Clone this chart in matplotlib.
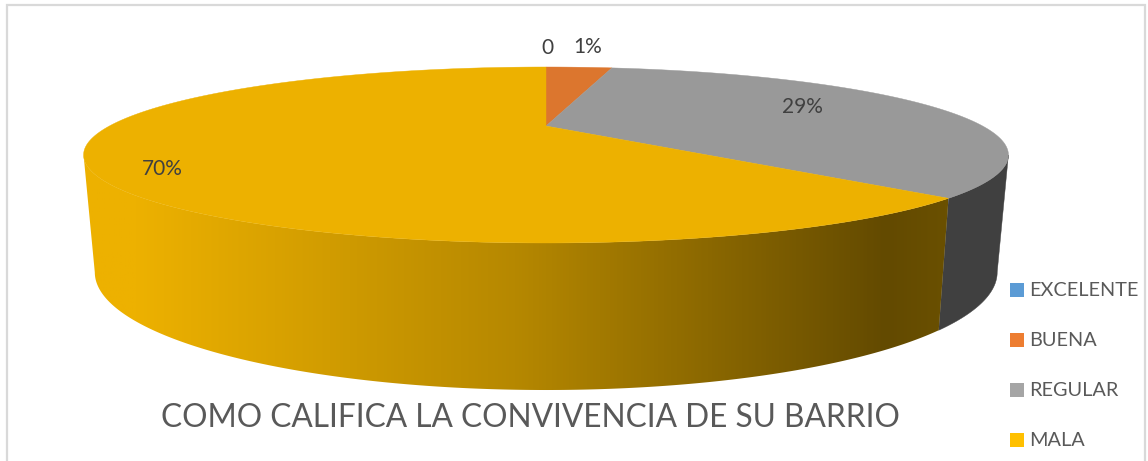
#!/usr/bin/env python

import numpy as np
import matplotlib
matplotlib.use('Agg')
import matplotlib.pyplot as plt
from matplotlib.colors import LinearSegmentedColormap
from matplotlib.patches import Polygon, Rectangle

plt.rcParams['font.family'] = ['Lato', 'DejaVu Sans']

categories = ['EXCELENTE', 'BUENA', 'REGULAR', 'MALA']
# drawn shares of the slices (labels do not follow them)
slice_shares = [0, 3.2, 34.3, 62.5]
slice_labels = ['0', '1%', '29%', '70%']
top_colors = ['#5B9BD5', '#DC762E', '#999999', '#EDB100']
legend_colors = ['#5B9BD5', '#ED7D31', '#A5A5A5', '#FFC000']
title = 'COMO CALIFICA LA CONVIVENCIA DE SU BARRIO'

W, H = 1148, 461
TEXT = '#595959'
LABEL = '#404040'

# perspective of the disc, fitted to the picture
K = 0.3295
CX = 546
# angles where the disc outline is widest, the wall is visible between them
FRONT_START = np.degrees(np.arccos(-K))
FRONT_END = 360 - FRONT_START


def project(angle, a, p, q):
    """angle in degrees clockwise from the top of the disc -> pixel x, y"""
    t = np.radians(angle)
    u, v = np.sin(t), np.cos(t)
    w = 1 + K * v
    return CX + a * u / w, (p + q * v) / w


def top_face(angle):
    return project(angle, 436.6, 126, -36.92)


def bottom_face(angle):
    return project(angle, 426.0, 233.5, -28.0)


fig = plt.figure(figsize=(W / 100, H / 100), dpi=100)
ax = fig.add_axes([0, 0, 1, 1])
ax.axis('off')

ax.add_patch(Rectangle((7, 5.5), 1138, 470, fc='white', ec='#D9D9D9', lw=1.6))

edges = np.concatenate([[0], np.cumsum(slice_shares)]) * 3.6

# outer walls, plain dark gray for REGULAR, shaded left to right for MALA
mala_shade = LinearSegmentedColormap.from_list('y', [(0, '#EDB100'), (0.06, '#EDB100'),
                                                     (0.5, '#B68800'), (0.93, '#634A00'),
                                                     (1, '#6A5000')])
for i, (start, end) in enumerate(zip(edges[:-1], edges[1:])):
    if i < 2:
        continue
    ang = np.linspace(max(start, FRONT_START), min(end, FRONT_END), 300)
    tx, ty = top_face(ang)
    bx, by = bottom_face(ang)
    pts = np.column_stack([np.r_[tx, bx[::-1]], np.r_[ty, by[::-1]]])
    if i == 2:
        ax.add_patch(Polygon(pts, closed=True, fc='#404040', ec='#404040', lw=0.3, zorder=1))
    else:
        wall = Polygon(pts, closed=True, fc='none', ec='none')
        ax.add_patch(wall)
        grad = ax.imshow(np.linspace(0, 1, 512).reshape(1, -1), cmap=mala_shade,
                         extent=[83, 948, 400, 100], aspect='auto', zorder=1.5)
        grad.set_clip_path(wall)
ax.set_xlim(0, W)
ax.set_ylim(H, 0)

# top face
for i, (start, end) in enumerate(zip(edges[:-1], edges[1:])):
    if end <= start:
        continue
    ang = np.linspace(start, end, 300)
    x, y = top_face(ang)
    ax.add_patch(Polygon(np.column_stack([np.r_[CX, x], np.r_[126, y]]), closed=True,
                         fc=top_colors[i], ec=top_colors[i], lw=0.3, zorder=2))

label_pos = [(547, 48), (588, 47), (802, 107), (162, 169)]
for txt, (lx, ly) in zip(slice_labels, label_pos):
    ax.text(lx, ly, txt, fontsize=15, color=LABEL, ha='center', va='center', zorder=3)

ax.text(530, 418, title, fontsize=22.8, color=TEXT, ha='center', va='center', zorder=3)

legend_y = [290, 340, 390, 440]
for name, col, ly in zip(categories, legend_colors, legend_y):
    ax.add_patch(Rectangle((1010, ly - 7), 14, 14, fc=col, ec='none', zorder=3))
    ax.text(1029, ly, name, fontsize=14.3, color=TEXT, ha='left', va='center', zorder=3)

fig.savefig('out.png', dpi=100)
